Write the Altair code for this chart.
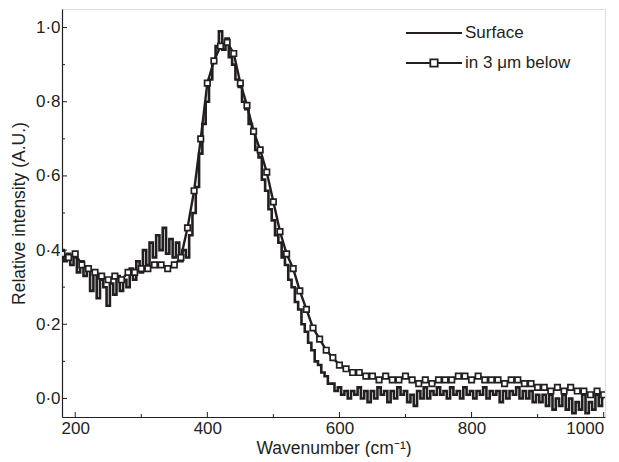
import altair as alt
import pandas as pd

# ---------------- data ----------------
surface_wn = list(range(180, 1001, 5))
surface_val = [
    0.40, 0.37, 0.39, 0.36, 0.38, 0.34, 0.37, 0.33, 0.35, 0.29,   # 180-225
    0.34, 0.27, 0.32, 0.30, 0.25, 0.31, 0.28, 0.33, 0.29, 0.32,   # 230-275
    0.30, 0.35, 0.32, 0.37, 0.34, 0.40, 0.36, 0.42, 0.38, 0.44,   # 280-325
    0.40, 0.46, 0.39, 0.43, 0.38, 0.42, 0.37, 0.40, 0.38, 0.44,   # 330-375
    0.50, 0.57, 0.66, 0.74, 0.80, 0.86, 0.91, 0.95, 0.99, 0.94,   # 380-425
    0.97, 0.92, 0.90, 0.86, 0.84, 0.80, 0.78, 0.74, 0.72, 0.67,   # 430-475
    0.65, 0.59, 0.56, 0.51, 0.48, 0.44, 0.42, 0.38, 0.36, 0.32,   # 480-525
    0.30, 0.26, 0.24, 0.20, 0.18, 0.15, 0.13, 0.10, 0.09, 0.07,   # 530-575
    0.06, 0.04, 0.04, 0.02, 0.03, 0.01, 0.02, 0.00, 0.02, 0.01,   # 580-625
    0.03, 0.00, 0.02, -0.01, 0.02, 0.00, 0.03, 0.01, 0.02, -0.01, # 630-675
    0.02, 0.00, 0.03, 0.01, 0.02, -0.01, 0.01, -0.02, 0.02, 0.00, # 680-725
    0.03, 0.00, 0.02, 0.01, 0.03, 0.01, 0.02, 0.00, 0.03, 0.01,   # 730-775
    0.02, 0.00, 0.03, 0.01, 0.02, 0.00, 0.02, 0.01, 0.03, 0.00,   # 780-825
    0.02, 0.01, 0.02, -0.01, 0.02, 0.00, 0.02, 0.01, 0.03, 0.00,  # 830-875
    0.02, 0.00, 0.02, -0.01, 0.01, -0.01, 0.01, -0.02, 0.01, -0.03,  # 880-925
    0.00, -0.02, 0.01, -0.03, 0.00, -0.04, -0.01, -0.03, 0.01, -0.04,  # 930-975
    -0.01, -0.03, 0.01, -0.02, 0.00,                              # 980-1000
]

below_wn = list(range(180, 1001, 10))
below_val = [
    0.39, 0.38, 0.39, 0.36, 0.35, 0.34, 0.33, 0.32, 0.33, 0.32,   # 180-270
    0.34, 0.34, 0.35, 0.35, 0.36, 0.36, 0.35, 0.36, 0.38, 0.46,   # 280-370
    0.56, 0.70, 0.85, 0.91, 0.95, 0.96, 0.93, 0.85, 0.79, 0.72,   # 380-470
    0.67, 0.61, 0.53, 0.45, 0.39, 0.35, 0.29, 0.24, 0.19, 0.16,   # 480-570
    0.13, 0.11, 0.09, 0.08, 0.07, 0.07, 0.06, 0.06, 0.05, 0.06,   # 580-670
    0.05, 0.05, 0.06, 0.05, 0.04, 0.05, 0.04, 0.05, 0.05, 0.05,   # 680-770
    0.06, 0.06, 0.05, 0.06, 0.05, 0.05, 0.05, 0.04, 0.05, 0.05,   # 780-870
    0.04, 0.04, 0.03, 0.03, 0.02, 0.03, 0.02, 0.03, 0.02, 0.02,   # 880-970
    0.01, 0.02, 0.01,                                             # 980-1000
]

series_names = ["Surface", "in 3 \u03bcm below"]
x_major = [200, 400, 600, 800, 1000]
x_minor = [300, 500, 700, 900]
y_major = [0.0, 0.2, 0.4, 0.6, 0.8, 1.0]
y_minor = [0.1, 0.3, 0.5, 0.7, 0.9]

# ---------------- chart ----------------
W, H = 543, 408
INK = "#231f20"
FONT = "Liberation Sans"

df_s = pd.DataFrame({"wn": surface_wn, "intensity": surface_val})
df_b = pd.DataFrame({"wn": below_wn, "intensity": below_val})

xscale = alt.Scale(domain=[180, 1002], nice=False, zero=False)
yscale = alt.Scale(domain=[-0.05, 1.05], nice=False, zero=False)

xaxis = alt.Axis(values=x_major, ticks=False, grid=False, format="d",
                 domainColor=INK, domainWidth=1.2, labelFontSize=17,
                 labelPadding=3, labelColor=INK, labelFont=FONT,
                 labelFlush=3,
                 title="Wavenumber (cm\u207b\u00b9)", titleFontSize=17.5,
                 titleFontWeight="normal", titleColor=INK, titleFont=FONT,
                 titlePadding=3)
yaxis = alt.Axis(values=y_major, ticks=False, grid=False,
                 labelExpr="replace(format(datum.value, '.1f'), '.', '\u00b7')",
                 domainColor=INK, domainWidth=1.2, labelFontSize=17,
                 labelPadding=2, labelColor=INK, labelFont=FONT,
                 title="Relative intensity (A.U.)", titleFontSize=17.5,
                 titleFontWeight="normal", titleColor=INK, titleFont=FONT,
                 titlePadding=7)

X = lambda: alt.X("wn:Q", scale=xscale, axis=xaxis)
Y = lambda: alt.Y("intensity:Q", scale=yscale, axis=yaxis)

surface = alt.Chart(df_s).mark_line(color=INK, strokeWidth=2.6, interpolate="step",
                                     clip=True).encode(x=X(), y=Y())
below_line = alt.Chart(df_b).mark_line(color=INK, strokeWidth=2.4, clip=True).encode(x=X(), y=Y())
below_pts = alt.Chart(df_b).mark_point(shape="square", size=30, filled=True, fill="white",
                                        stroke=INK, strokeWidth=1.7, opacity=1,
                                        clip=True).encode(x=X(), y=Y())

xt_major = alt.Chart(pd.DataFrame({"wn": x_major})).mark_rule(color=INK, strokeWidth=1).encode(
    x=X(), y=alt.value(H), y2=alt.value(H - 5))
xt_minor = alt.Chart(pd.DataFrame({"wn": x_minor})).mark_rule(color=INK, strokeWidth=1).encode(
    x=X(), y=alt.value(H), y2=alt.value(H - 3))
yt_major = alt.Chart(pd.DataFrame({"intensity": y_major})).mark_rule(color=INK, strokeWidth=1).encode(
    y=Y(), x=alt.value(0), x2=alt.value(5))
yt_minor = alt.Chart(pd.DataFrame({"intensity": y_minor})).mark_rule(color=INK, strokeWidth=1).encode(
    y=Y(), x=alt.value(0), x2=alt.value(3))

# legend (drawn inside the plot, top right)
lg1 = pd.DataFrame({"label": [series_names[0]]})
lg2 = pd.DataFrame({"label": [series_names[1]]})
LX0, LX1, LXT = 344, 400, 403
LY1, LY2 = 24, 54
leg = [
    alt.Chart(lg1).mark_rule(color=INK, strokeWidth=2.2).encode(
        x=alt.value(LX0), x2=alt.value(LX1), y=alt.value(LY1)),
    alt.Chart(lg1).mark_text(align="left", baseline="middle", fontSize=17, font=FONT, color=INK).encode(
        x=alt.value(LXT), y=alt.value(LY1), text="label:N"),
    alt.Chart(lg2).mark_rule(color=INK, strokeWidth=2.2).encode(
        x=alt.value(LX0), x2=alt.value(LX1), y=alt.value(LY2)),
    alt.Chart(lg2).mark_point(shape="square", size=55, filled=True, fill="white", stroke=INK,
                              strokeWidth=1.8, opacity=1).encode(
        x=alt.value((LX0 + LX1) / 2), y=alt.value(LY2)),
    alt.Chart(lg2).mark_text(align="left", baseline="middle", fontSize=17, font=FONT, color=INK).encode(
        x=alt.value(LXT), y=alt.value(LY2), text="label:N"),
]

chart = alt.layer(
    surface, below_line, below_pts, xt_major, xt_minor, yt_major, yt_minor, *leg
).properties(
    width=W, height=H,
    padding={"left": 2, "top": 1, "right": 3, "bottom": 0},
).configure_view(stroke=None).configure(background="white")

chart.save("out.html", embed_options={"renderer": "svg", "actions": False})
